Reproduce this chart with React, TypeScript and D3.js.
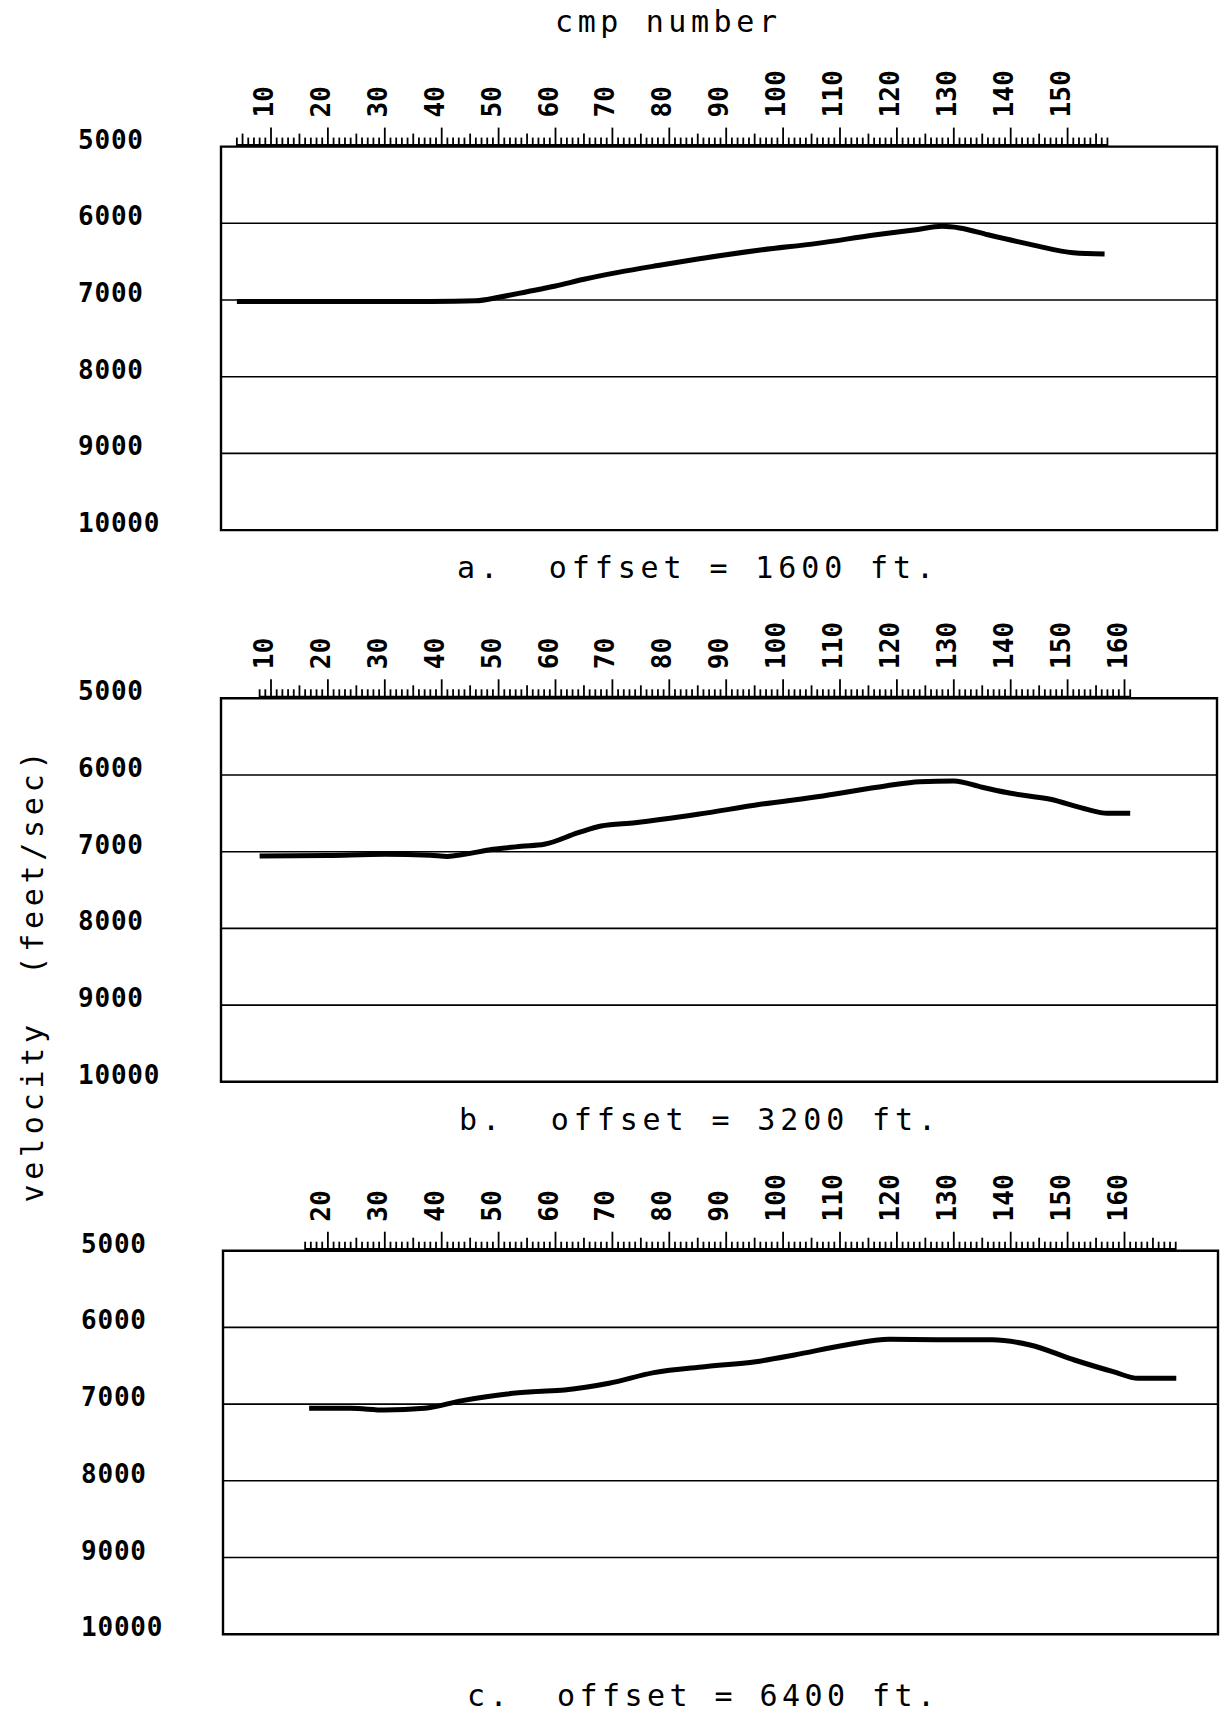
import React from "react";
import * as d3 from "d3";

// ---- data ----
const velocityTicks = [5000, 6000, 7000, 8000, 9000, 10000];
const gridValues = [6000, 7000, 8000, 9000];

const panelTitles = ["a.  offset = 1600 ft.", "b.  offset = 3200 ft.", "c.  offset = 6400 ft."];

const cmpLabelsA = [10, 20, 30, 40, 50, 60, 70, 80, 90, 100, 110, 120, 130, 140, 150];
const cmpLabelsB = [10, 20, 30, 40, 50, 60, 70, 80, 90, 100, 110, 120, 130, 140, 150, 160];
const cmpLabelsC = [20, 30, 40, 50, 60, 70, 80, 90, 100, 110, 120, 130, 140, 150, 160];

const rulerRangeA = [4, 157];
const rulerRangeB = [8, 161];
const rulerRangeC = [16, 169];

const cmpA = [4, 20, 38, 46, 50, 55, 60, 65, 71, 78, 85, 96, 106, 116, 123, 128, 131, 136, 144, 151, 156.5];
const velA = [7020, 7020, 7018, 7010, 6965, 6892, 6817, 6730, 6640, 6550, 6466, 6349, 6262, 6153, 6088, 6040, 6060, 6150, 6284, 6384, 6400];

const cmpB = [8, 20, 30, 38, 41, 44, 49, 54, 58, 64, 68, 74, 85, 96, 107, 118, 124, 130, 135, 140, 147, 153, 157, 161];
const velB = [7056, 7048, 7034, 7045, 7062, 7034, 6969, 6930, 6904, 6752, 6665, 6622, 6513, 6382, 6274, 6143, 6087, 6078, 6160, 6239, 6317, 6440, 6499, 6499];

const cmpC = [16.7, 24, 30, 37, 43.6, 51.5, 56, 61.6, 69.4, 77.3, 86.2, 95.2, 102, 111, 118.7, 127, 136.7, 143.4, 151.2, 158, 162.4, 169.1];
const velC = [7055, 7055, 7077, 7055, 6955, 6868, 6840, 6816, 6729, 6590, 6512, 6447, 6360, 6229, 6155, 6160, 6160, 6229, 6425, 6577, 6664, 6664];

// ---- layout ----
const W = 1220;
const H = 1714;
const PANEL_H = 383.5;

const panels = [
  { top: 146.6, left: 221, right: 1217, cmp: cmpA, vel: velA, labels: cmpLabelsA, ruler: rulerRangeA, title: panelTitles[0], titleX: 457, titleY: 578, titleLen: 477, labelX: 78 },
  { top: 698.3, left: 221, right: 1217, cmp: cmpB, vel: velB, labels: cmpLabelsB, ruler: rulerRangeB, title: panelTitles[1], titleX: 459, titleY: 1130, titleLen: 477, labelX: 78 },
  { top: 1250.7, left: 223, right: 1218, cmp: cmpC, vel: velC, labels: cmpLabelsC, ruler: rulerRangeC, title: panelTitles[2], titleX: 467, titleY: 1706, titleLen: 468, labelX: 81 },
];

const x = d3.scaleLinear().domain([10, 160]).range([271, 1124.5]);

const numFont = "'DejaVu Sans Mono', monospace";
const titleFont = "'DejaVu Sans Mono', monospace";

function Panel({ p }: { p: any }) {
  const y = d3.scaleLinear().domain([5000, 10000]).range([p.top, p.top + PANEL_H]);
  const pts = p.cmp.map((c: number, i: number) => [c, p.vel[i]] as [number, number]);
  const line = d3
    .line<[number, number]>()
    .x((d) => x(d[0]))
    .y((d) => y(d[1]))
    .curve(d3.curveMonotoneX);
  const rulerTicks = d3.range(p.ruler[0], p.ruler[1] + 1);
  const bottom = p.top + PANEL_H;
  return (
    <g>
      {gridValues.map((v) => (
        <line key={v} x1={p.left} x2={p.right} y1={y(v)} y2={y(v)} stroke="#000" strokeWidth={1.6} />
      ))}
      <path
        d={`M${p.left},${p.top} L${p.right},${p.top} L${p.right},${bottom} L${p.left},${bottom} Z`}
        fill="none"
        stroke="#000"
        strokeWidth={2.4}
      />
      <line x1={x(p.ruler[0])} x2={x(p.ruler[1])} y1={p.top - 1.5} y2={p.top - 1.5} stroke="#000" strokeWidth={2.2} />
      {rulerTicks.map((c: number) => {
        const len = c % 10 === 0 ? 19 : c % 5 === 0 ? 13 : 9;
        return <line key={c} x1={x(c)} x2={x(c)} y1={p.top} y2={p.top - len} stroke="#000" strokeWidth={1.8} />;
      })}
      {p.labels.map((c: number) => (
        <text
          key={c}
          transform={`translate(${x(c) + 2},${p.top - 29}) rotate(-90)`}
          fontFamily={numFont}
          fontWeight="bold"
          fontSize={26}
          letterSpacing={0.3}
          textAnchor="start"
        >
          {c}
        </text>
      ))}
      {velocityTicks.map((v) => (
        <text key={v} x={p.labelX} y={y(v) + 2} fontFamily={numFont} fontWeight="bold" fontSize={26} letterSpacing={0.8}>
          {v}
        </text>
      ))}
      <path d={line(pts) || ""} fill="none" stroke="#000" strokeWidth={5} strokeLinejoin="round" />
      <text
        x={p.titleX}
        y={p.titleY}
        fontFamily={titleFont}
        fontSize={30}
        textLength={p.titleLen}
        lengthAdjust="spacing"
        style={{ whiteSpace: "pre" }}
      >
        {p.title}
      </text>
    </g>
  );
}

export default function App() {
  return (
    <svg
      width={W}
      height={H}
      viewBox={`0 0 ${W} ${H}`}
      style={{ position: "absolute", left: 0, top: 0, background: "#fff" }}
    >
      <rect x={0} y={0} width={W} height={H} fill="#fff" />
      <text x={555} y={32} fontFamily={titleFont} fontSize={30} textLength={222} lengthAdjust="spacing">
        cmp number
      </text>
      <text
        transform={`translate(43,977) rotate(-90)`}
        fontFamily={titleFont}
        fontSize={30}
        textAnchor="middle"
        textLength={451}
        lengthAdjust="spacing"
        style={{ whiteSpace: "pre" }}
      >
        {"velocity  (feet/sec)"}
      </text>
      {panels.map((p, i) => (
        <Panel key={i} p={p} />
      ))}
    </svg>
  );
}
